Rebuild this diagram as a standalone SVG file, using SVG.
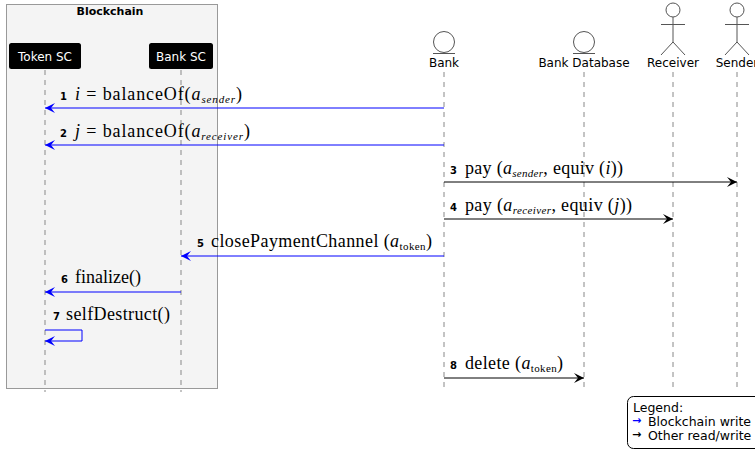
<svg xmlns="http://www.w3.org/2000/svg" width="755" height="453" viewBox="0 0 755 453">
<defs>
<style>
.sans{font-family:"DejaVu Sans","Liberation Sans",sans-serif}
.pname{font-family:"DejaVu Sans","Liberation Sans",sans-serif;font-size:12px;fill:#000;text-anchor:middle}
.num{font-family:"DejaVu Sans","Liberation Sans",sans-serif;font-size:10px;font-weight:bold;fill:#000}
.math{font-family:"Liberation Serif","DejaVu Serif",serif;font-size:18px;fill:#000}
.it{font-style:italic}
.sub{font-size:11px}
.life{stroke:#888;stroke-width:1;stroke-dasharray:5 5;fill:none}
.blue{stroke:#0000ff;stroke-width:1;fill:none}
.black{stroke:#000;stroke-width:1;fill:none}
.actor{stroke:#555;stroke-width:1;fill:#fff}
</style>
<marker id="ab" viewBox="0 0 10 10" refX="10" refY="5" markerWidth="10" markerHeight="10" markerUnits="userSpaceOnUse" orient="auto">
<path d="M0,0 L10,5 L0,10 L4,5 Z" fill="#0000ff"/>
</marker>
<marker id="ak" viewBox="0 0 10 10" refX="10" refY="5" markerWidth="10" markerHeight="10" markerUnits="userSpaceOnUse" orient="auto">
<path d="M0,0 L10,5 L0,10 L4,5 Z" fill="#000"/>
</marker>
</defs>
<rect width="755" height="453" fill="#fff"/>

<g id="blockchain">
<rect x="6.5" y="4.5" width="211" height="384" fill="#f4f4f4" stroke="#999" stroke-width="1"/>
<text x="110" y="15" class="sans" font-size="11" font-weight="bold" text-anchor="middle">Blockchain</text>
</g>

<g id="lifelines">
<line class="life" x1="45" y1="70" x2="45" y2="392"/>
<line class="life" x1="181" y1="70" x2="181" y2="392"/>
<line class="life" x1="444" y1="72" x2="444" y2="392"/>
<line class="life" x1="584" y1="72" x2="584" y2="392"/>
<line class="life" x1="673" y1="72" x2="673" y2="392"/>
<line class="life" x1="737" y1="72" x2="737" y2="392"/>
</g>

<g id="token-sc">
<rect x="9" y="43" width="72" height="26" rx="2.5" fill="#000"/>
<text x="45" y="60.5" class="pname" style="fill:#fff">Token SC</text>
</g>
<g id="bank-sc">
<rect x="149" y="43" width="64" height="26" rx="2.5" fill="#000"/>
<text x="181" y="60.5" class="pname" style="fill:#fff">Bank SC</text>
</g>
<g id="bank">
<circle cx="444" cy="42" r="10.5" class="actor"/>
<line x1="433" y1="53.5" x2="455" y2="53.5" stroke="#555"/>
<text x="444" y="67" class="pname">Bank</text>
</g>
<g id="bank-database">
<circle cx="584" cy="42" r="10.5" class="actor"/>
<line x1="573" y1="53.5" x2="595" y2="53.5" stroke="#555"/>
<text x="584" y="67" class="pname">Bank Database</text>
</g>
<g id="receiver">
<circle cx="673" cy="10" r="7" class="actor"/>
<path d="M673,17 V42 M661,24.5 H685 M661,55 L673,42 L685,55" class="actor" style="fill:none"/>
<text x="673" y="67" class="pname">Receiver</text>
</g>
<g id="sender">
<circle cx="737" cy="10" r="7" class="actor"/>
<path d="M737,17 V42 M725,24.5 H749 M725,55 L737,42 L749,55" class="actor" style="fill:none"/>
<text x="737" y="67" class="pname">Sender</text>
</g>

<g id="connectors">
<line class="blue" x1="444" y1="108" x2="45" y2="108" marker-end="url(#ab)"/>
<line class="blue" x1="444" y1="145" x2="45" y2="145" marker-end="url(#ab)"/>
<line class="black" x1="444" y1="182" x2="737" y2="182" marker-end="url(#ak)"/>
<line class="black" x1="444" y1="219" x2="673" y2="219" marker-end="url(#ak)"/>
<line class="blue" x1="444" y1="256" x2="181" y2="256" marker-end="url(#ab)"/>
<line class="blue" x1="181" y1="292" x2="45" y2="292" marker-end="url(#ab)"/>
<path class="blue" d="M45,330 H82 V341 H45" marker-end="url(#ab)"/>
<line class="black" x1="444" y1="378" x2="584" y2="378" marker-end="url(#ak)"/>

<text x="60" y="100" class="num">1</text>
<text x="75" y="100" class="math" textLength="167" lengthAdjust="spacing"><tspan class="it">i</tspan> = balanceOf(<tspan class="it">a</tspan><tspan class="it sub" dy="3">sender</tspan><tspan dy="-3">)</tspan></text>

<text x="60" y="137" class="num">2</text>
<text x="75" y="137" class="math" textLength="175" lengthAdjust="spacing"><tspan class="it">j</tspan> = balanceOf(<tspan class="it">a</tspan><tspan class="it sub" dy="3">receiver</tspan><tspan dy="-3">)</tspan></text>

<text x="450" y="174" class="num">3</text>
<text x="465" y="174" class="math" textLength="158" lengthAdjust="spacing">pay (<tspan class="it">a</tspan><tspan class="it sub" dy="3">sender</tspan><tspan dy="-3">, equiv (</tspan><tspan class="it">i</tspan>))</text>

<text x="450" y="211" class="num">4</text>
<text x="465" y="211" class="math" textLength="167" lengthAdjust="spacing">pay (<tspan class="it">a</tspan><tspan class="it sub" dy="3">receiver</tspan><tspan dy="-3">, equiv (</tspan><tspan class="it">j</tspan>))</text>

<text x="197" y="247" class="num">5</text>
<text x="211" y="247" class="math" textLength="221" lengthAdjust="spacing">closePaymentChannel (<tspan class="it">a</tspan><tspan class="sub" dy="3">token</tspan><tspan dy="-3">)</tspan></text>

<text x="61" y="283" class="num">6</text>
<text x="75" y="283" class="math" textLength="66" lengthAdjust="spacing">finalize()</text>

<text x="53" y="320" class="num">7</text>
<text x="66" y="320" class="math" textLength="104" lengthAdjust="spacing">selfDestruct()</text>

<text x="450" y="369" class="num">8</text>
<text x="465" y="369" class="math" textLength="98" lengthAdjust="spacing">delete (<tspan class="it">a</tspan><tspan class="sub" dy="3">token</tspan><tspan dy="-3">)</tspan></text>
</g>

<g id="legend">
<rect x="627.5" y="396.5" width="135" height="52" rx="6" fill="#fff" stroke="#000" stroke-width="1"/>
<text x="633" y="412" class="sans" font-size="12.5">Legend:</text>
<text x="632" y="426" class="sans" font-size="12.5"><tspan fill="#0000ff" font-size="11" font-weight="bold" dy="-2">→</tspan><tspan dy="2" x="648">Blockchain write</tspan></text>
<text x="632" y="440" class="sans" font-size="12.5"><tspan font-size="11" font-weight="bold" dy="-2">→</tspan><tspan dy="2" x="648">Other read/write</tspan></text>
</g>
</svg>
